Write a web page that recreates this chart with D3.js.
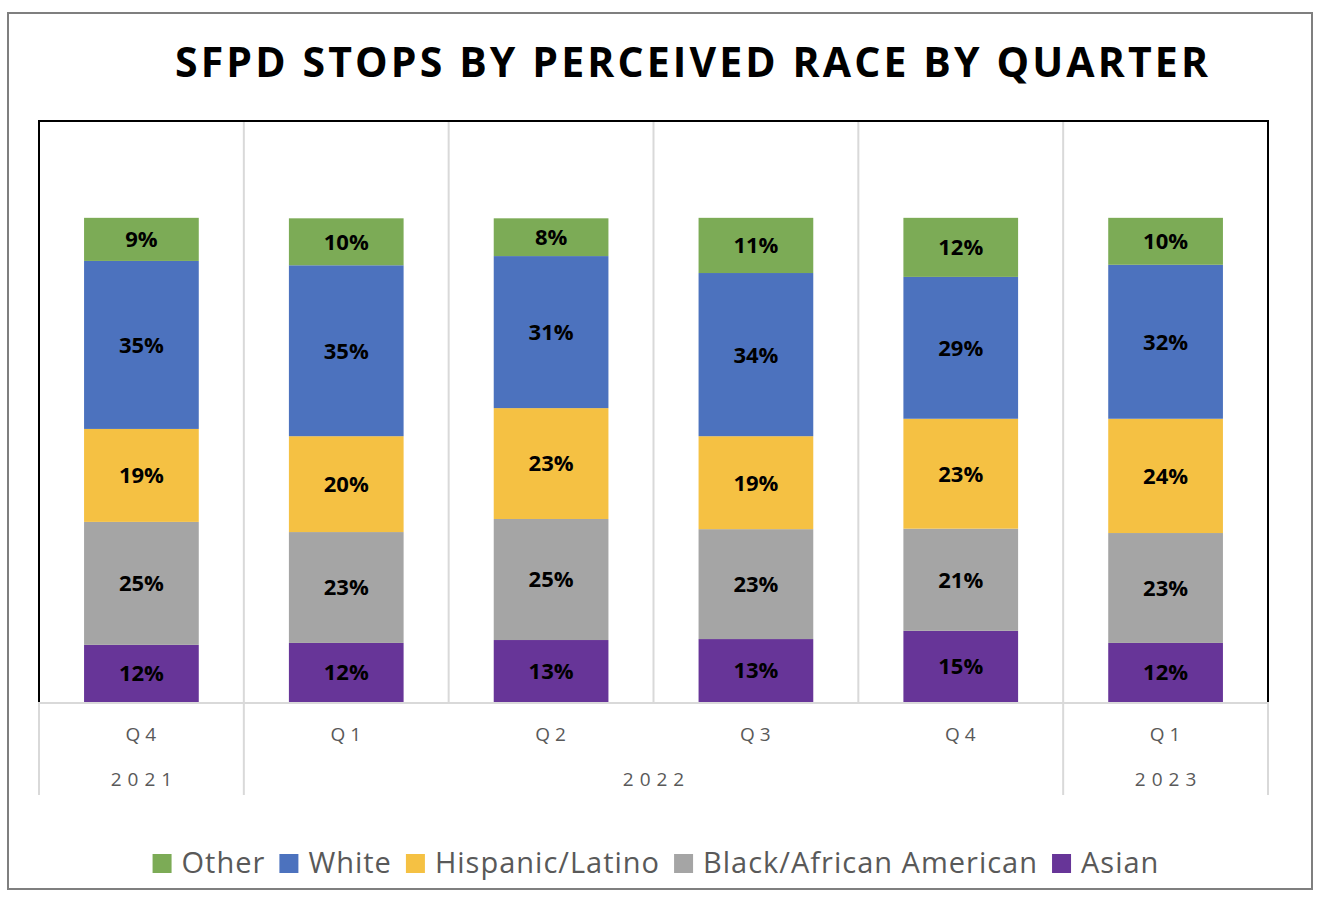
<!DOCTYPE html>
<html>
<head>
<meta charset="utf-8">
<script src="https://cdn.jsdelivr.net/npm/d3@7"></script>
<style>
  html, body { margin: 0; padding: 0; background: #fff; }
  svg { display: block; font-family: "Open Sans", "Noto Sans", sans-serif; }
</style>
</head>
<body>
<svg id="chart" width="1326" height="904"></svg>
<script>
// ---------- data ----------
const quarters = ["Q4", "Q1", "Q2", "Q3", "Q4", "Q1"];
const years    = ["2021", "2022", "2022", "2022", "2022", "2023"];
const seriesNames = ["Asian", "Black/African American", "Hispanic/Latino", "White", "Other"];
const asian    = [0.118, 0.122, 0.128, 0.130, 0.147, 0.122];
const black    = [0.254, 0.229, 0.250, 0.227, 0.211, 0.227];
const hispanic = [0.192, 0.198, 0.229, 0.192, 0.227, 0.236];
const white    = [0.347, 0.353, 0.314, 0.337, 0.293, 0.318];
const other    = [0.089, 0.097, 0.078, 0.114, 0.122, 0.097];
const legendOrder = ["Other", "White", "Hispanic/Latino", "Black/African American", "Asian"];
const colors = {
  "Asian": "#673598",
  "Black/African American": "#a5a5a5",
  "Hispanic/Latino": "#f5c143",
  "White": "#4c72be",
  "Other": "#7cab56"
};
const title = "SFPD STOPS BY PERCEIVED RACE BY QUARTER";

// ---------- layout ----------
const svg = d3.select("#chart");
const plot = { left: 39, right: 1268, top: 121, bottom: 702 };
const axisBottom = 795;

// outer frame
svg.append("rect").attr("x", 8).attr("y", 13).attr("width", 1304).attr("height", 876)
  .attr("fill", "#fff").attr("stroke", "#7f7f7f").attr("stroke-width", 2);

// title
svg.append("text").attr("x", 175).attr("y", 77)
  .attr("textLength", 1033).attr("lengthAdjust", "spacing")
  .attr("font-size", 41).attr("font-weight", 700).attr("fill", "#000")
  .text(title);

const rows = quarters.map((q, i) => ({
  key: i, quarter: q, year: years[i],
  "Asian": asian[i], "Black/African American": black[i],
  "Hispanic/Latino": hispanic[i], "White": white[i], "Other": other[i]
}));

const x = d3.scaleBand().domain(rows.map(d => d.key))
  .range([plot.left, plot.right]).paddingInner(0.44).paddingOuter(0.22);
const y = d3.scaleLinear().domain([0, 1.2]).range([plot.bottom, plot.top]);

const stack = d3.stack().keys(seriesNames)(rows);

// category gridlines in plot
const step = x.step();
const bounds = d3.range(1, quarters.length).map(i => plot.left + i * step);
svg.append("g").selectAll("line").data(bounds).join("line")
  .attr("x1", d => d).attr("x2", d => d)
  .attr("y1", plot.top).attr("y2", plot.bottom)
  .attr("stroke", "#d9d9d9").attr("stroke-width", 2);

// bars
const gBars = svg.append("g");
stack.forEach(s => {
  gBars.append("g").attr("fill", colors[s.key]).selectAll("rect").data(s).join("rect")
    .attr("x", d => x(d.data.key))
    .attr("width", x.bandwidth())
    .attr("y", d => y(d[1]))
    .attr("height", d => y(d[0]) - y(d[1]));
});

// bar labels
stack.forEach(s => {
  gBars.append("g").selectAll("text").data(s).join("text")
    .attr("x", d => x(d.data.key) + x.bandwidth() / 2)
    .attr("y", d => (y(d[0]) + y(d[1])) / 2)
    .attr("dy", "0.36em")
    .attr("text-anchor", "middle")
    .attr("font-size", 22).attr("font-weight", 700).attr("fill", "#000")
    .text(d => Math.round((d[1] - d[0]) * 100) + "%");
});

// plot border (black left, top, right)
svg.append("path")
  .attr("d", `M${plot.left},${plot.bottom}V${plot.top}H${plot.right}V${plot.bottom}`)
  .attr("fill", "none").attr("stroke", "#000").attr("stroke-width", 2);

// axis baseline
svg.append("line").attr("x1", plot.left - 1).attr("x2", plot.right + 1)
  .attr("y1", plot.bottom + 1).attr("y2", plot.bottom + 1)
  .attr("stroke", "#d9d9d9").attr("stroke-width", 2);

// quarter labels
svg.append("g").selectAll("text").data(rows).join("text")
  .attr("x", d => x(d.key) + x.bandwidth() / 2 + 2)
  .attr("y", 741)
  .attr("text-anchor", "middle")
  .attr("font-size", 19).attr("letter-spacing", 5).attr("fill", "#595959")
  .text(d => d.quarter);

// year groups
const groups = [];
rows.forEach((d, i) => {
  const last = groups[groups.length - 1];
  if (last && last.year === d.year) last.end = i;
  else groups.push({ year: d.year, start: i, end: i });
});
const groupEdges = [plot.left];
groups.forEach(g => groupEdges.push(plot.left + (g.end + 1) * step));
svg.append("g").selectAll("line").data(groupEdges).join("line")
  .attr("x1", d => d).attr("x2", d => d)
  .attr("y1", plot.bottom).attr("y2", axisBottom)
  .attr("stroke", "#d9d9d9").attr("stroke-width", 2);
svg.append("g").selectAll("text").data(groups).join("text")
  .attr("x", g => plot.left + (g.start + g.end + 1) / 2 * step + 3)
  .attr("y", 786)
  .attr("text-anchor", "middle")
  .attr("font-size", 19).attr("letter-spacing", 6).attr("fill", "#595959")
  .text(g => g.year);

// legend
const legend = svg.append("g");
const fs = 29, sq = 19, gapST = 10, gapItem = 14;
const items = legendOrder.map(name => {
  const t = legend.append("text").attr("font-size", fs).attr("fill", "#595959")
    .attr("letter-spacing", 1)
    .attr("y", 873).text(name);
  return { name, t, w: t.node().getComputedTextLength() };
});
const total = d3.sum(items, d => sq + gapST + d.w) + gapItem * (items.length - 1);
let cx = 656 - total / 2;
items.forEach(it => {
  legend.append("rect").attr("x", cx).attr("y", 854).attr("width", sq).attr("height", sq)
    .attr("fill", colors[it.name]);
  it.t.attr("x", cx + sq + gapST);
  cx += sq + gapST + it.w + gapItem;
});
</script>
</body>
</html>
